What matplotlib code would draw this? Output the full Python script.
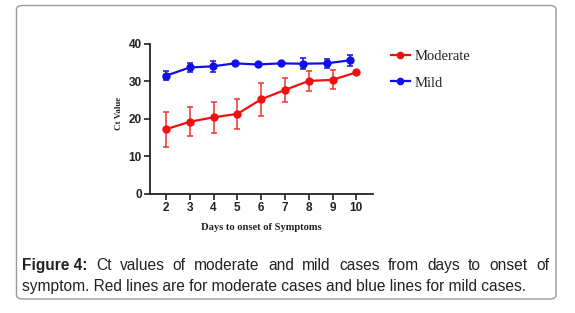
import matplotlib.pyplot as plt
from matplotlib.lines import Line2D
from matplotlib.patches import FancyBboxPatch

# === Data ===
days = [2, 3, 4, 5, 6, 7, 8, 9, 10]
moderate_ct = [17.2, 19.2, 20.4, 21.3, 25.2, 27.7, 30.1, 30.4, 32.4]
moderate_err = [4.7, 3.9, 4.1, 4.0, 4.4, 3.2, 2.7, 2.5, 0.3]
mild_days = [2, 3, 3.97, 4.89, 5.85, 6.83, 7.76, 8.75, 9.72]
mild_ct = [31.5, 33.7, 34.0, 34.8, 34.5, 34.8, 34.7, 34.8, 35.6]
mild_err = [1.25, 1.3, 1.4, 0.3, 0.3, 0.4, 1.5, 1.2, 1.4]
y_ticks = [0, 10, 20, 30, 40]

caption_bold = "Figure 4:"
caption_line1 = "Ct values of moderate and mild cases from days to onset of"
caption_line2 = "symptom. Red lines are for moderate cases and blue lines for mild cases."

RED = "#f01010"
BLUE = "#1010e8"

W, H = 575, 313
fig = plt.figure(figsize=(W / 100, H / 100), dpi=100)

# rounded frame around figure + caption
frame = FancyBboxPatch((16.5 / W, 1 - 299 / H), (556 - 16.5) / W, (299 - 5.5) / H,
                       boxstyle="round,pad=0,rounding_size=0.012",
                       transform=fig.transFigure, fill=False,
                       edgecolor="#9a9a9a", linewidth=1.0)
fig.patches.append(frame)

ax = fig.add_axes([150 / W, 1 - 193.7 / H, (373 - 150) / W, (193.7 - 43.5) / H])

ax.errorbar(days, moderate_ct, yerr=moderate_err, color=RED, ecolor="#f03030",
            marker="o", markersize=5, linewidth=1.6, elinewidth=1.1, capsize=2.5,
            capthick=1.1)
ax.errorbar(mild_days, mild_ct, yerr=mild_err, color=BLUE, ecolor=BLUE,
            marker="o", markersize=5, linewidth=1.6, elinewidth=1.1, capsize=2.5,
            capthick=1.1)

ax.set_xlim(1.33, 10.7)
ax.set_ylim(0, 40.1)
ax.set_xticks(days)
ax.set_yticks(y_ticks)
for s in ["top", "right"]:
    ax.spines[s].set_visible(False)
for s in ["left", "bottom"]:
    ax.spines[s].set_linewidth(1.3)
    ax.spines[s].set_color("#222222")
ax.tick_params(axis="both", length=4, width=1.2, color="#222222", pad=2)
for lab in ax.get_xticklabels() + ax.get_yticklabels():
    lab.set_fontfamily("Liberation Sans")
    lab.set_fontweight("bold")
    lab.set_fontsize(8.5)
    lab.set_color("#222222")

fig.text(119 / W, 1 - 113 / H, "Ct Value", rotation=90, ha="center", va="center",
         family="Liberation Serif", weight="bold", fontsize=6.5, color="#222222")
fig.text(261 / W, 1 - 228 / H, "Days to onset of Symptoms", ha="center", va="center",
         family="Liberation Serif", weight="bold", fontsize=7.6, color="#222222")

handles = [Line2D([], [], color=RED, marker="o", markersize=4.5, linewidth=1.6),
           Line2D([], [], color=BLUE, marker="o", markersize=4.5, linewidth=1.6)]
leg = fig.legend(handles, ["Moderate", "Mild"], loc="upper left",
                 bbox_to_anchor=(391 / W, 1 - 50 / H), frameon=False,
                 prop={"family": "Liberation Serif", "size": 10.5},
                 handlelength=1.3, labelspacing=0.9, handletextpad=0.3,
                 borderpad=0, borderaxespad=0)
for t in leg.get_texts():
    t.set_color("#222222")

# === Caption (first line justified) ===
fs = 11.2
x0, x1 = 22 / W, 549 / W
y1, y2 = 1 - 270 / H, 1 - 291 / H
renderer = fig.canvas.get_renderer()
words = [(caption_bold, "bold")] + [(w, "normal") for w in caption_line1.split()]
texts = []
total = 0
for w, wt in words:
    t = fig.text(0, y1, w, family="Liberation Sans", weight=wt, fontsize=fs,
                 va="baseline", ha="left", color="#222222")
    bb = t.get_window_extent(renderer)
    texts.append((t, bb.width / W))
    total += bb.width / W
gap = (x1 - x0 - total) / (len(words) - 1)
x = x0
for t, wdt in texts:
    t.set_x(x)
    x += wdt + gap
fig.text(x0, y2, caption_line2, family="Liberation Sans", fontsize=fs,
         va="baseline", ha="left", color="#222222")

fig.savefig("out.png", dpi=100)
